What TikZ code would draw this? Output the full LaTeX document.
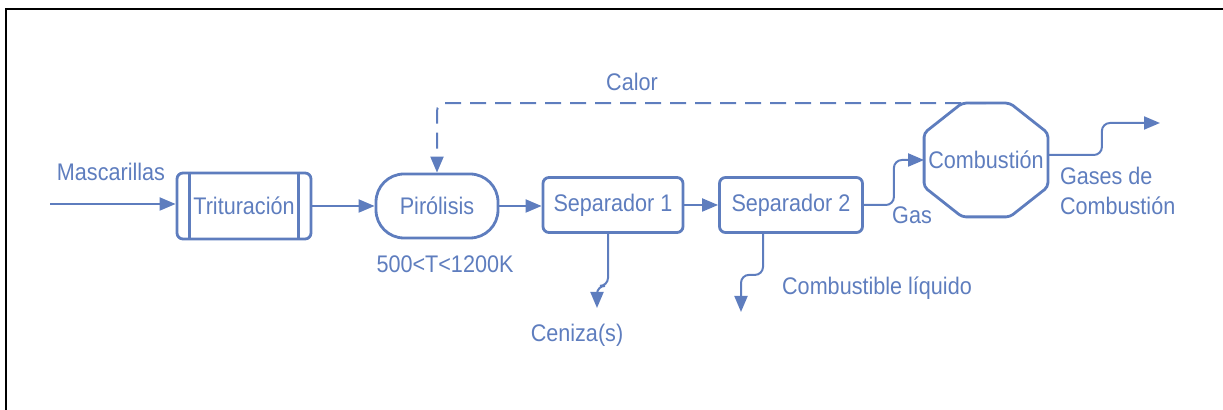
\documentclass[tikz,border=0pt]{standalone}
\usepackage{fontspec}
\setmainfont{Liberation Sans}[FakeStretch=0.9]
\usetikzlibrary{arrows.meta}
\definecolor{azul}{RGB}{94,125,190}

\begin{document}
\begin{tikzpicture}[x=0.5pt,y=-0.5pt,>={Triangle[length=8pt,width=6.5pt]},
  every node/.style={text=azul,font=\fontsize{12}{13}\selectfont},
  caja/.style={draw=azul,line width=1.4pt,rounded corners=3pt,inner sep=0pt},
  flujo/.style={->,draw=azul,line width=1pt}]
\useasboundingbox (0,0) rectangle (1223,410);
\draw[line width=1.2pt](6,410)--(6,9)--(1223,9);

\node[caja,minimum width=67pt,minimum height=33pt](trit) at (244,206){Trituración};
\draw[caja]([xshift=7pt]trit.north west)--([xshift=7pt]trit.south west);
\draw[caja]([xshift=-7pt]trit.north east)--([xshift=-7pt]trit.south east);
\node[caja,rounded corners=14pt,minimum width=61pt,minimum height=32pt](piro) at (437,206){Pirólisis};
\node[caja,minimum width=70pt,minimum height=27.5pt](sep1) at (613,205){Separador 1};
\node[caja,minimum width=71.5pt,minimum height=27.5pt](sep2) at (791,205){Separador 2};
\node[minimum width=61.5pt,minimum height=56.5pt,inner sep=0pt](comb) at (986,160){Combustión};
\draw[caja,rounded corners=2pt]([xshift=19pt]comb.north west)--([xshift=-19pt]comb.north east)
  --([yshift=-15pt]comb.north east)--([yshift=15pt]comb.south east)
  --([xshift=-19pt]comb.south east)--([xshift=19pt]comb.south west)
  --([yshift=15pt]comb.south west)--([yshift=-15pt]comb.north west)--cycle;

\node(masc) at (111,172){Mascarillas};
\node(temp) at (445,264){500<T<1200K};
\node(ceni) at (577,335){Ceniza(s)};
\node(liq) at (877,288){Combustible líquido};
\node(gas) at (912,215){Gas};
\node[align=left,anchor=west,font=\fontsize{12}{15}\selectfont](gases) at (1053,191){Gases de\\Combustión};
\node(calor) at (632,82){Calor};

\coordinate(ini) at (50,204);
\coordinate(cen) at (597,308);
\coordinate(liqf) at (741,312);
\coordinate(fin) at (1160,123);
\draw[flujo](ini)--(ini-|trit.west);
\draw[flujo](trit)--(piro);
\draw[flujo](piro.east)--(piro.east-|sep1.west);
\draw[flujo](sep1)--(sep2);
\draw[flujo,rounded corners=4pt]([xshift=-2.5pt]sep1.south)--++(0,52)-|(cen);
\draw[flujo,rounded corners=4pt]([xshift=-14pt]sep2.south)--++(0,41)-|(liqf);
\draw[flujo,rounded corners=4pt](sep2.east)--++(30,0)|-(comb.west);
\draw[flujo,rounded corners=4pt]([yshift=2.5pt]comb.east)--++(54,0)|-(fin);
\draw[flujo,dash pattern=on 8pt off 4.5pt,rounded corners=4pt](comb.north)-|(piro.north);
\end{tikzpicture}
\end{document}
